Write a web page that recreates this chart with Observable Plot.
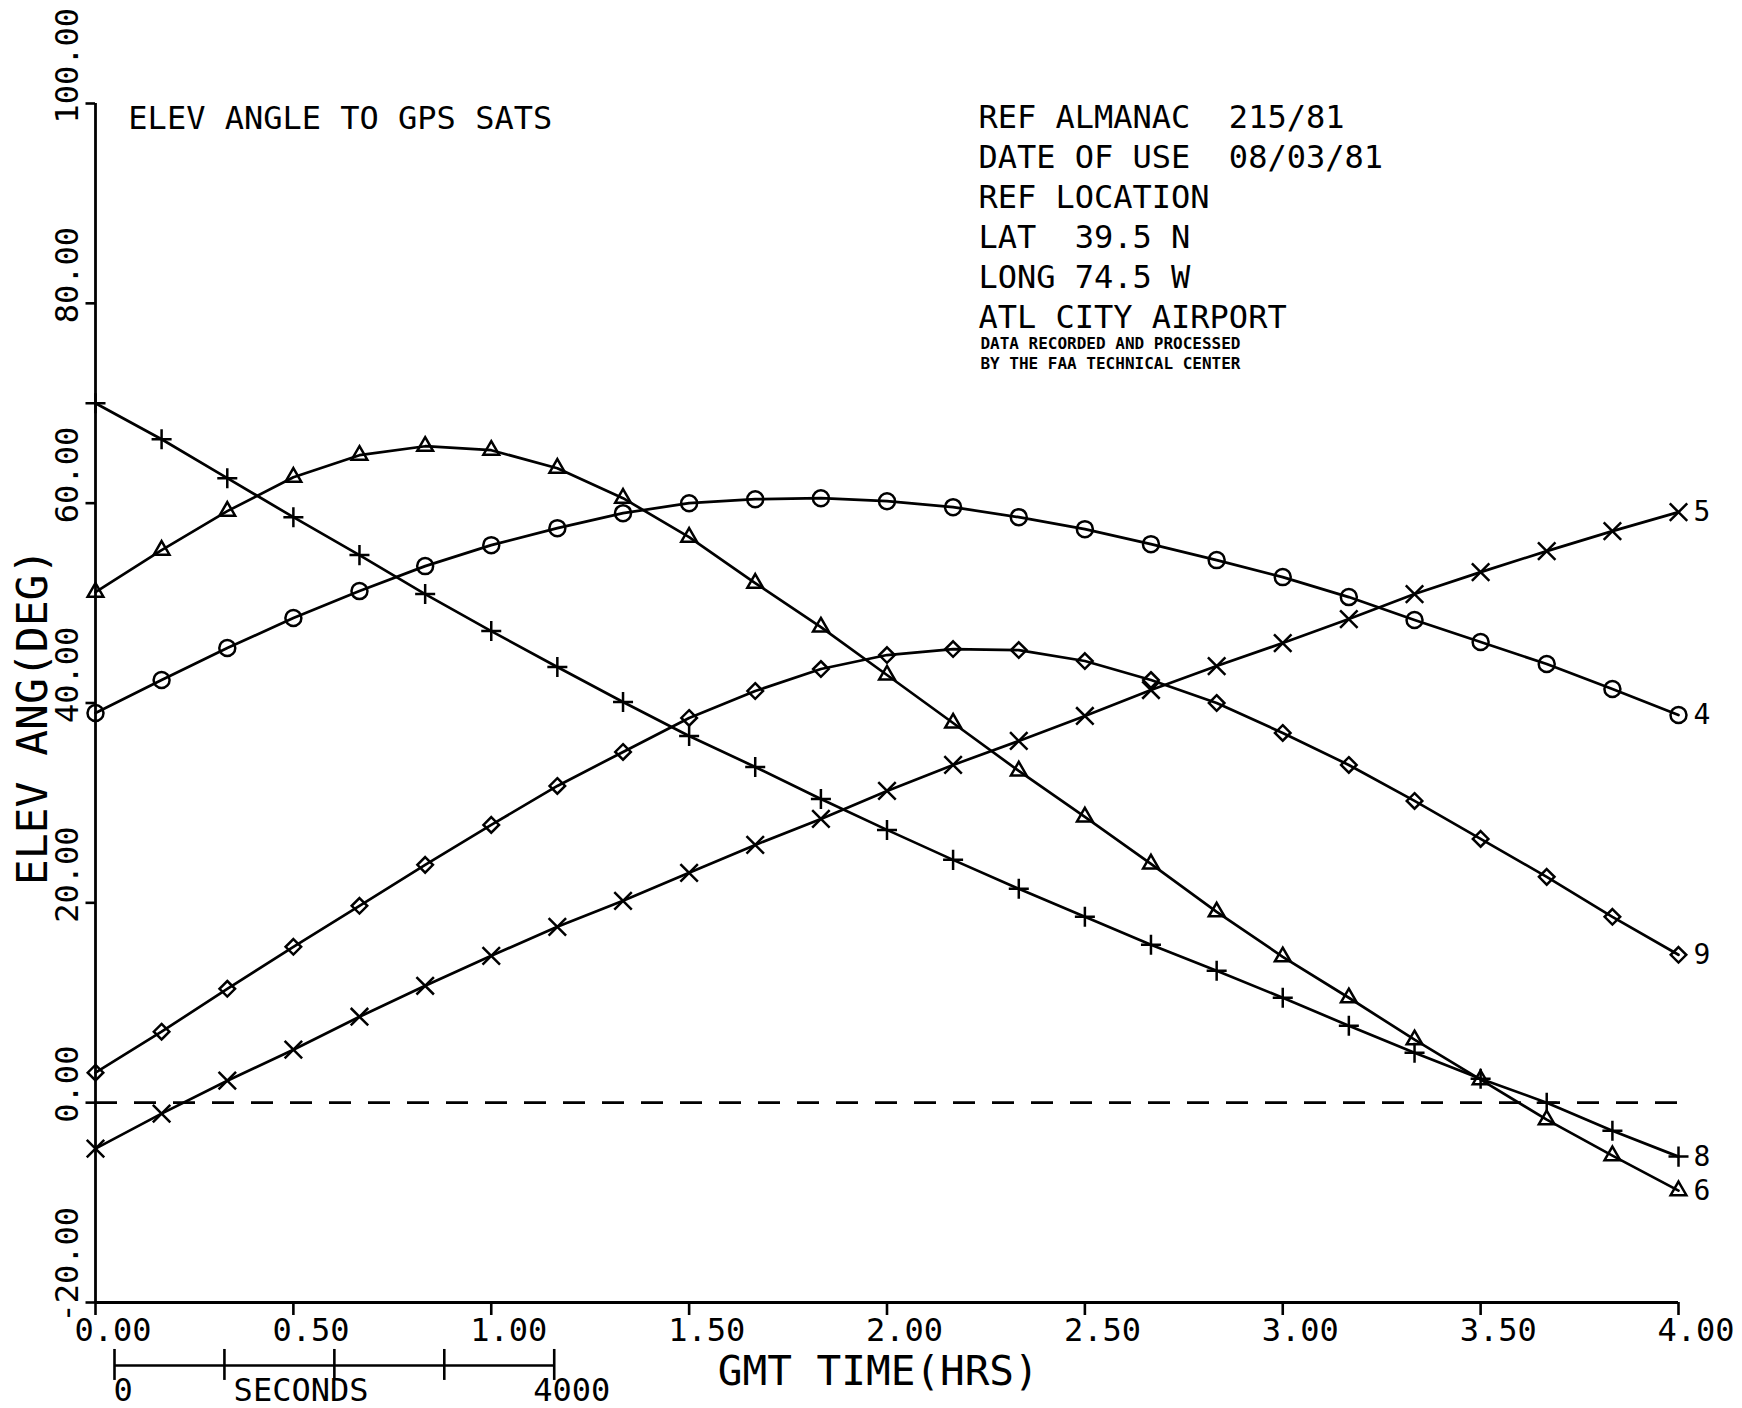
<!DOCTYPE html>
<html><head><meta charset="utf-8">
<script src="https://cdn.jsdelivr.net/npm/d3@7"></script>
<script src="https://cdn.jsdelivr.net/npm/@observablehq/plot@0.6"></script>
<style>
html,body{margin:0;padding:0;background:#fff;}
svg text{white-space:pre;}
</style></head><body><div id="chart"></div>
<script>
// GMT time (hours) of each plotted sample
const hours = [0, 0.167, 0.333, 0.5, 0.667, 0.833, 1, 1.167, 1.333, 1.5, 1.667, 1.833, 2,
  2.167, 2.333, 2.5, 2.667, 2.833, 3, 3.167, 3.333, 3.5, 3.667, 3.833, 4];
// elevation angles (deg) per satellite
const sat5 = [-4.6, -1.1, 2.2, 5.3, 8.6, 11.7, 14.7, 17.6, 20.2, 23.0, 25.8, 28.4, 31.2,
  33.8, 36.2, 38.7, 41.3, 43.7, 46.0, 48.4, 50.9, 53.1, 55.2, 57.2, 59.1];
const sat4 = [39.0, 42.3, 45.5, 48.5, 51.2, 53.7, 55.8, 57.5, 59.0, 60.0, 60.4, 60.5, 60.2,
  59.6, 58.6, 57.4, 55.9, 54.3, 52.6, 50.6, 48.3, 46.1, 43.9, 41.4, 38.8];
const sat9 = [3.0, 7.1, 11.4, 15.6, 19.7, 23.8, 27.8, 31.7, 35.1, 38.5, 41.2, 43.4, 44.8,
  45.4, 45.3, 44.2, 42.3, 40.0, 37.0, 33.8, 30.2, 26.4, 22.6, 18.6, 14.8];
const sat8 = [70.0, 66.4, 62.5, 58.6, 54.8, 50.9, 47.2, 43.6, 40.1, 36.7, 33.6, 30.4, 27.3,
  24.3, 21.4, 18.6, 15.8, 13.2, 10.5, 7.7, 5.0, 2.4, 0.0, -2.8, -5.4];
const sat6 = [51.1, 55.3, 59.2, 62.6, 64.8, 65.7, 65.3, 63.5, 60.5, 56.6, 52.0, 47.6, 42.8,
  38.0, 33.2, 28.6, 23.9, 19.1, 14.6, 10.5, 6.3, 2.3, -1.7, -5.3, -8.8];

const satNames = ["5", "4", "9", "8", "6"];
const satSymbols = ["times", "circle", "diamond2", "plus", "triangle2"];
const xTicks = [0, 0.5, 1, 1.5, 2, 2.5, 3, 3.5, 4];
const yTicks = [-20, 0, 20, 40, 60, 80, 100];
const secondsTicks = [0, 1000, 2000, 3000, 4000];
const titleText = "ELEV ANGLE TO GPS SATS";
const infoLines = ["REF ALMANAC  215/81", "DATE OF USE  08/03/81", "REF LOCATION",
  "LAT  39.5 N", "LONG 74.5 W", "ATL CITY AIRPORT"];
const creditLines = ["DATA RECORDED AND PROCESSED", "BY THE FAA TECHNICAL CENTER"];
const xTitle = "GMT TIME(HRS)";
const yTitle = "ELEV ANG(DEG)";

const series = [sat5, sat4, sat9, sat8, sat6];
const rows = satNames.flatMap((name, k) => hours.map((t, i) => ({sat: name, t, v: series[k][i]})));

const F = "DejaVu Sans Mono";
const secOff = 0.048; // scale bar start (hours)
const barY = -26.3;
const symbolR = {times: 8, circle: 8, diamond2: 7, plus: 6.5, triangle2: 7.5};

const marks = [
  Plot.ruleY([0], {x1: 0, x2: 4, stroke: "black", strokeWidth: 2.7, strokeDasharray: "22,17"}),
  Plot.ruleX([0], {y1: -20, y2: 100, stroke: "black", strokeWidth: 2.8}),
  Plot.ruleY([-20], {x1: 0, x2: 4, stroke: "black", strokeWidth: 2.8}),
  Plot.ruleY(yTicks, {x1: 0, x2: -0.024, stroke: "black", strokeWidth: 2.6}),
  Plot.ruleX(xTicks, {y1: -20, y2: -21.3, stroke: "black", strokeWidth: 2.6}),
  Plot.text(yTicks, {x: 0, y: d => d, text: d => d.toFixed(2), rotate: -90, textAnchor: "start",
    lineAnchor: "bottom", dx: -18, dy: 20, fontSize: 32, fill: "black"}),
  Plot.text(xTicks, {x: d => d, y: -20, text: d => d.toFixed(2), textAnchor: "start",
    lineAnchor: "top", dx: -21, dy: 16, fontSize: 32, fill: "black"}),
  Plot.text([xTitle], {x: 1.978, y: -26.9, text: d => d, textAnchor: "middle", lineAnchor: "middle", fontSize: 41, fill: "black"}),
  Plot.text([yTitle], {x: 0, y: 38.6, text: d => d, rotate: -90, textAnchor: "middle", lineAnchor: "middle", dx: -62, fontSize: 43, fill: "black"}),
  Plot.text([titleText], {x: 0.083, y: 98.5, text: d => d, textAnchor: "start", lineAnchor: "middle", fontSize: 32, fill: "black"}),
  Plot.text(infoLines, {x: 2.231, y: (d, i) => 98.6 - 4 * i, text: d => d, textAnchor: "start", lineAnchor: "middle", fontSize: 32, fill: "black"}),
  Plot.text(creditLines, {x: 2.236, y: (d, i) => 75.9 - 2 * i, text: d => d, textAnchor: "start", lineAnchor: "middle", fontSize: 16, fontWeight: "bold", fill: "black"}),
  // seconds scale bar
  Plot.ruleY([barY], {x1: secOff, x2: secOff + 4000 / 3600, stroke: "black", strokeWidth: 2.6}),
  Plot.ruleX(secondsTicks, {x: s => secOff + s / 3600, y1: barY + 1.6, y2: barY - 1.5, stroke: "black", strokeWidth: 2.6}),
  Plot.text(["0"], {x: secOff, y: -28.8, text: d => d, textAnchor: "start", lineAnchor: "middle", dx: -1, fontSize: 32, fill: "black"}),
  Plot.text(["SECONDS"], {x: 0.349, y: -28.8, text: d => d, textAnchor: "start", lineAnchor: "middle", fontSize: 32, fill: "black"}),
  Plot.text(["4000"], {x: secOff + 4000 / 3600, y: -28.8, text: d => d, textAnchor: "start", lineAnchor: "middle", dx: -21, fontSize: 32, fill: "black"}),
  // series
  Plot.line(rows, {x: "t", y: "v", z: "sat", stroke: "black", strokeWidth: 2.7}),
  ...satNames.map((name, k) => Plot.dot(rows.filter(r => r.sat === name), {
    x: "t", y: "v", symbol: satSymbols[k], r: symbolR[satSymbols[k]],
    stroke: "black", fill: "none", strokeWidth: 2.5})),
  Plot.text(rows, Plot.selectLast({x: "t", y: "v", z: "sat", text: "sat", dx: 15, textAnchor: "start",
    lineAnchor: "middle", fontSize: 28, fill: "black"}))
];

const chart = Plot.plot({
  width: 1742, height: 1408,
  marginLeft: 95, marginRight: 64, marginTop: 103, marginBottom: 106,
  x: {domain: [0, 4], axis: null},
  y: {domain: [-20, 100], axis: null},
  style: {fontFamily: F, background: "white", color: "black", overflow: "visible"},
  marks
});
document.getElementById("chart").appendChild(chart);
</script></body></html>
